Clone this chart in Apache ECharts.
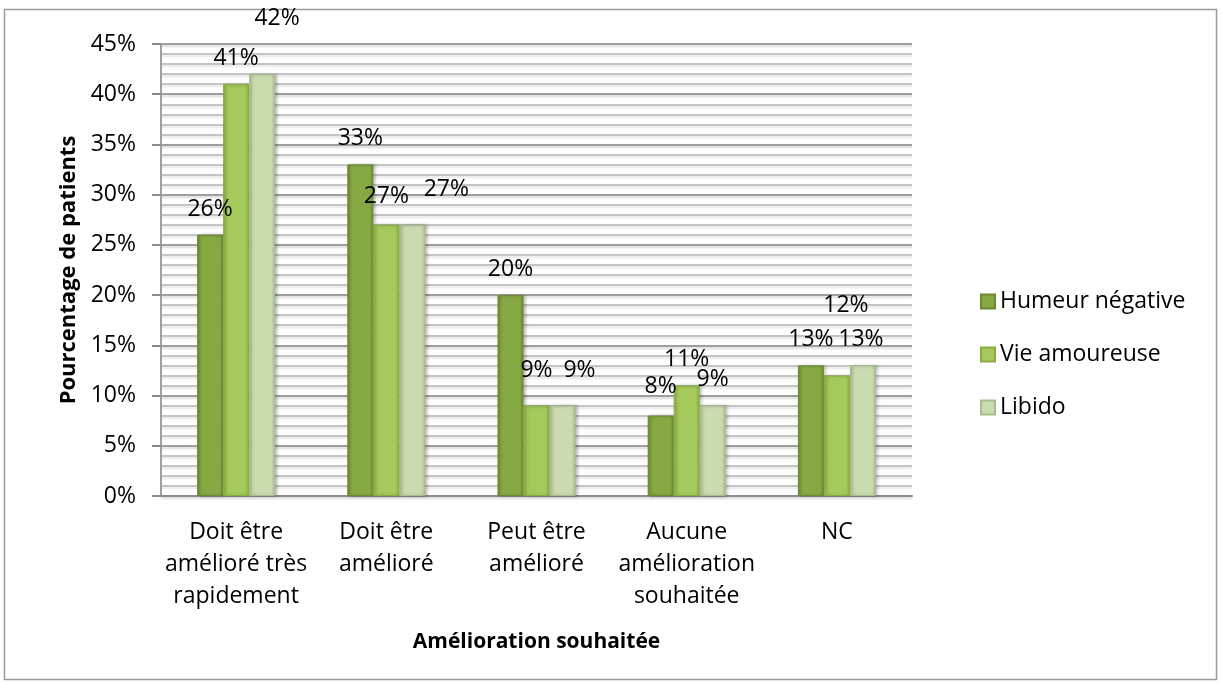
<!DOCTYPE html>
<html lang="fr">
  <head>
    <meta charset="utf-8" />
    <script src="https://cdn.jsdelivr.net/npm/echarts@6/dist/echarts.min.js"></script>
    <title>Amélioration souhaitée</title>
    <style>
      html, body { margin: 0; padding: 0; background: #fff; }
      #chart { width: 1221px; height: 684px; }
    </style>
  </head>
  <body>
    <div id="chart"></div>
    <script>
      // data
      var categories = [
        'Doit être\namélioré très\nrapidement',
        'Doit être\namélioré',
        'Peut être\namélioré',
        'Aucune\namélioration\nsouhaitée',
        'NC'
      ]
      var seriesNames = ['Humeur négative', 'Vie amoureuse', 'Libido']
      var humeurNegative = [26, 33, 20, 8, 13]
      var vieAmoureuse = [41, 27, 9, 11, 12]
      var libido = [42, 27, 9, 9, 13]
      var yTicks = [0, 5, 10, 15, 20, 25, 30, 35, 40, 45]

      // manual label nudges, like the original chart
      var labelNudges = [
        [[0, 0], [0, -1], [0, 0], [0, -4], [0, 0]],
        [[0, 0], [0, -3], [0, -10], [0, -1], [9, -45]],
        [[15, -30], [34, -10], [17, -10], [0, -1], [-2, 0]]
      ]

      var FONT = '"Open Sans", "Noto Sans", sans-serif'

      // bevel-ish colours: edge, centre
      var palette = [
        ['#6b8a31', '#87a944'],
        ['#88ad40', '#a5c95a'],
        ['#a9bb8c', '#cbdbb0']
      ]

      function barColor(i) {
        return new echarts.graphic.LinearGradient(0, 0, 1, 0, [
          { offset: 0, color: palette[i][0] },
          { offset: 0.15, color: palette[i][1] },
          { offset: 0.85, color: palette[i][1] },
          { offset: 1, color: palette[i][0] }
        ])
      }

      var allValues = [humeurNegative, vieAmoureuse, libido]

      var series = allValues.map(function (vals, i) {
        return {
          name: seriesNames[i],
          type: 'bar',
          barWidth: 26,
          barGap: '0%',
          data: vals.map(function (v, j) {
            return {
              value: v,
              label: { offset: labelNudges[i][j] }
            }
          }),
          itemStyle: {
            color: barColor(i),
            borderColor: palette[i][0],
            borderWidth: 1,
            shadowColor: 'rgba(0,0,0,0.25)',
            shadowBlur: 3,
            shadowOffsetX: 2
          },
          label: {
            show: true,
            position: 'top',
            distance: 14,
            color: '#000',
            fontFamily: FONT,
            fontSize: 23,
            formatter: '{c}%'
          }
        }
      })

      var chart = echarts.init(document.getElementById('chart'))
      chart.setOption({
        animation: false,
        backgroundColor: '#fff',
        textStyle: { fontFamily: FONT },
        graphic: [{
          type: 'rect',
          shape: { x: 4.5, y: 9.5, width: 1212, height: 670 },
          style: { fill: 'none', stroke: '#9a9a9a', lineWidth: 1.5 },
          silent: true
        }],
        grid: { left: 161, right: 309, top: 44, bottom: 188 },
        legend: {
          orient: 'vertical',
          left: 975,
          top: 285,
          itemWidth: 14,
          itemHeight: 14,
          itemGap: 30,
          icon: 'rect',
          textStyle: { fontFamily: FONT, fontSize: 23, color: '#000' },
          data: seriesNames
        },
        xAxis: {
          type: 'category',
          data: categories,
          name: 'Amélioration souhaitée',
          nameLocation: 'middle',
          nameGap: 136,
          nameTextStyle: { fontFamily: FONT, fontSize: 21, fontWeight: 'bold', color: '#000' },
          axisLine: { lineStyle: { color: '#8c8c8c', width: 2 } },
          axisTick: { show: false },
          axisLabel: {
            fontFamily: FONT, fontSize: 23, color: '#000',
            lineHeight: 32, margin: 20, interval: 0
          }
        },
        yAxis: {
          type: 'value',
          min: yTicks[0],
          max: yTicks[yTicks.length - 1],
          interval: 5,
          name: 'Pourcentage de patients',
          nameLocation: 'middle',
          nameGap: 81,
          nameTextStyle: { fontFamily: FONT, fontSize: 22, fontWeight: 'bold', color: '#000' },
          axisLine: { show: true, lineStyle: { color: '#a0a0a0', width: 2 } },
          axisTick: { show: true, length: 9, lineStyle: { color: '#8c8c8c', width: 2 } },
          axisLabel: {
            fontFamily: FONT, fontSize: 23, color: '#000', margin: 25,
            formatter: '{value}%'
          },
          splitLine: {
            lineStyle: {
              color: '#9e9e9e', width: 2,
              shadowColor: 'rgba(0,0,0,0.15)', shadowBlur: 2, shadowOffsetY: 2
            }
          },
          minorTick: { show: false, splitNumber: 5 },
          minorSplitLine: {
            show: true,
            lineStyle: {
              color: '#c4c4c4', width: 2,
              shadowColor: 'rgba(0,0,0,0.1)', shadowBlur: 2, shadowOffsetY: 2
            }
          }
        },
        series: series
      })
    </script>
  </body>
</html>
